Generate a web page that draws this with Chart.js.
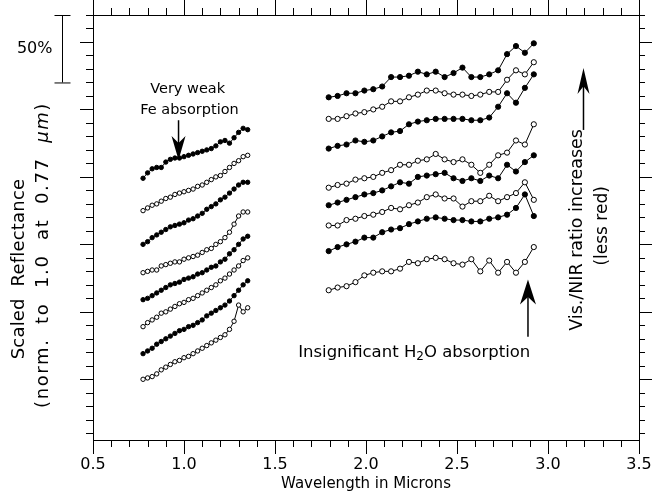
<!DOCTYPE html>
<html>
<head>
<meta charset="utf-8">
<script src="https://cdn.jsdelivr.net/npm/chart.js@4.4.0/dist/chart.umd.min.js"></script>
<style>
  html, body { margin: 0; padding: 0; background: #fff; }
  canvas { display: block; }
</style>
</head>
<body>
<canvas id="chart" width="654" height="494"></canvas>
<script>
const FONT = '"DejaVu Sans", Verdana, sans-serif'

// wavelength grids (microns)
const visWave = [0.775, 0.800, 0.825, 0.850, 0.875, 0.900, 0.925, 0.950, 0.975, 1.000, 1.025, 1.050,
  1.075, 1.100, 1.125, 1.150, 1.175, 1.200, 1.225, 1.250, 1.275, 1.300, 1.325, 1.350]
const nirWave = [1.795, 1.844, 1.893, 1.942, 1.991, 2.040, 2.089, 2.138, 2.187, 2.236, 2.285, 2.334,
  2.383, 2.432, 2.481, 2.530, 2.579, 2.628, 2.677, 2.726, 2.775, 2.824, 2.873, 2.922]

// scaled reflectance, stacked with offsets (0.5 = 50%)
const vis1 = [1.79, 1.83, 1.86, 1.87, 1.87, 1.91, 1.93, 1.94, 1.94, 1.95, 1.96, 1.97, 1.98, 1.99, 2.00, 2.01, 2.03, 2.06, 2.07, 2.05, 2.09, 2.13, 2.16, 2.15]
const vis2 = [1.55, 1.57, 1.59, 1.60, 1.62, 1.64, 1.65, 1.67, 1.68, 1.69, 1.70, 1.71, 1.73, 1.74, 1.76, 1.78, 1.80, 1.81, 1.84, 1.87, 1.90, 1.92, 1.95, 1.96]
const vis3 = [1.30, 1.32, 1.35, 1.37, 1.39, 1.41, 1.43, 1.44, 1.45, 1.46, 1.48, 1.49, 1.51, 1.53, 1.56, 1.58, 1.60, 1.63, 1.65, 1.68, 1.71, 1.74, 1.76, 1.76]
const vis4 = [1.09, 1.10, 1.11, 1.11, 1.14, 1.15, 1.16, 1.17, 1.17, 1.19, 1.20, 1.21, 1.22, 1.24, 1.26, 1.27, 1.30, 1.32, 1.35, 1.39, 1.45, 1.51, 1.54, 1.54]
const vis5 = [0.89, 0.90, 0.92, 0.94, 0.96, 0.98, 1.00, 1.01, 1.02, 1.04, 1.05, 1.06, 1.08, 1.09, 1.11, 1.13, 1.14, 1.17, 1.19, 1.23, 1.26, 1.30, 1.34, 1.36]
const vis6 = [0.69, 0.72, 0.74, 0.76, 0.79, 0.80, 0.82, 0.84, 0.86, 0.87, 0.89, 0.90, 0.92, 0.94, 0.96, 0.98, 1.00, 1.03, 1.05, 1.08, 1.11, 1.14, 1.18, 1.20]
const vis7 = [0.49, 0.51, 0.53, 0.56, 0.58, 0.60, 0.62, 0.64, 0.66, 0.67, 0.69, 0.70, 0.72, 0.74, 0.77, 0.79, 0.81, 0.83, 0.85, 0.88, 0.92, 0.96, 1.00, 1.03]
const vis8 = [0.30, 0.31, 0.32, 0.34, 0.37, 0.39, 0.41, 0.43, 0.44, 0.46, 0.47, 0.49, 0.51, 0.53, 0.55, 0.57, 0.59, 0.61, 0.63, 0.67, 0.73, 0.85, 0.80, 0.83]

const nir1 = [2.39, 2.40, 2.42, 2.42, 2.44, 2.45, 2.47, 2.54, 2.54, 2.55, 2.58, 2.56, 2.58, 2.54, 2.57, 2.61, 2.54, 2.54, 2.56, 2.59, 2.71, 2.77, 2.72, 2.79]
const nir2 = [2.23, 2.23, 2.25, 2.27, 2.28, 2.30, 2.32, 2.36, 2.36, 2.39, 2.41, 2.44, 2.44, 2.42, 2.41, 2.41, 2.40, 2.41, 2.43, 2.43, 2.52, 2.59, 2.56, 2.65]
const nir3 = [2.01, 2.03, 2.04, 2.07, 2.06, 2.07, 2.10, 2.13, 2.14, 2.19, 2.21, 2.22, 2.23, 2.23, 2.23, 2.23, 2.22, 2.22, 2.24, 2.32, 2.42, 2.35, 2.46, 2.56]
const nir4 = [1.72, 1.74, 1.75, 1.78, 1.79, 1.80, 1.83, 1.85, 1.89, 1.89, 1.92, 1.93, 1.97, 1.93, 1.91, 1.93, 1.89, 1.83, 1.89, 1.96, 1.98, 2.07, 2.04, 2.19]
const nir5 = [1.59, 1.61, 1.63, 1.65, 1.67, 1.68, 1.70, 1.73, 1.76, 1.75, 1.80, 1.81, 1.82, 1.83, 1.79, 1.77, 1.79, 1.77, 1.81, 1.79, 1.89, 1.84, 1.91, 1.96]
const nir6 = [1.44, 1.44, 1.48, 1.49, 1.51, 1.52, 1.54, 1.57, 1.56, 1.59, 1.61, 1.65, 1.67, 1.64, 1.64, 1.58, 1.62, 1.62, 1.66, 1.62, 1.65, 1.68, 1.76, 1.63]
const nir7 = [1.25, 1.28, 1.30, 1.32, 1.35, 1.35, 1.39, 1.41, 1.42, 1.45, 1.47, 1.49, 1.50, 1.49, 1.48, 1.48, 1.47, 1.47, 1.49, 1.50, 1.52, 1.57, 1.67, 1.51]
const nir8 = [0.96, 0.98, 0.99, 1.02, 1.07, 1.09, 1.10, 1.10, 1.12, 1.17, 1.16, 1.19, 1.20, 1.19, 1.16, 1.15, 1.19, 1.10, 1.18, 1.09, 1.17, 1.09, 1.17, 1.28]

const visSpectra = [vis1, vis2, vis3, vis4, vis5, vis6, vis7, vis8]
const nirSpectra = [nir1, nir2, nir3, nir4, nir5, nir6, nir7, nir8]

// alternate filled / open circles down the stack
function spectrum(wave, refl, filled, radius) {
  return {
    data: refl.map((r, i) => ({ x: wave[i], y: r })),
    showLine: true,
    borderColor: '#000',
    borderWidth: 1,
    backgroundColor: filled ? '#000' : '#fff',
    pointBackgroundColor: filled ? '#000' : '#fff',
    pointBorderColor: '#000',
    pointBorderWidth: 1,
    pointRadius: radius
  }
}

const datasets = [
  ...visSpectra.map((s, i) => spectrum(visWave, s, i % 2 === 0, 2.2)),
  ...nirSpectra.map((s, i) => spectrum(nirWave, s, i % 2 === 0, 2.6))
]

function arrow(ctx, x, yTail, yTip, len, w) {
  const dir = yTail > yTip ? 1 : -1
  ctx.lineWidth = 1.5
  ctx.beginPath()
  ctx.moveTo(x, yTail)
  ctx.lineTo(x, yTip + dir * len * 0.6)
  ctx.stroke()
  ctx.beginPath()
  ctx.moveTo(x, yTip)
  ctx.lineTo(x + w / 2, yTip + dir * len)
  ctx.lineTo(x, yTip + dir * len * 0.7)
  ctx.lineTo(x - w / 2, yTip + dir * len)
  ctx.closePath()
  ctx.fill()
}

// draw a run of [text, font, dy] pieces centred on (cx, cy)
function pieces(ctx, parts, cx, cy, spacing) {
  ctx.letterSpacing = (spacing || 0) + 'px'
  let total = 0
  parts.forEach((p) => {
    ctx.font = p[1]
    total += ctx.measureText(p[0]).width
  })
  let px = cx - total / 2
  ctx.textAlign = 'left'
  ctx.textBaseline = 'middle'
  parts.forEach((p) => {
    ctx.font = p[1]
    ctx.fillText(p[0], px, cy + (p[2] || 0))
    px += ctx.measureText(p[0]).width
  })
  ctx.letterSpacing = '0px'
}

const decorations = {
  id: 'decorations',
  afterDraw(chart) {
    const { ctx, chartArea: a, scales: { x, y } } = chart
    ctx.save()
    ctx.strokeStyle = '#000'
    ctx.fillStyle = '#000'
    ctx.lineWidth = 1

    // frame
    ctx.strokeRect(a.left + 0.5, a.top + 0.5, a.right - a.left, a.bottom - a.top)

    // x ticks, top and bottom, every 0.1 micron
    ctx.beginPath()
    for (let i = 5; i <= 35; i++) {
      const px = Math.round(x.getPixelForValue(i / 10)) + 0.5
      const major = i % 5 === 0
      ctx.moveTo(px, a.top)
      ctx.lineTo(px, a.top - (major ? 15 : 7))
      ctx.moveTo(px, a.bottom)
      ctx.lineTo(px, a.bottom + (major ? 14 : 7))
    }
    // y ticks, left and right, every 10%
    for (let k = 0; k <= 31; k++) {
      const v = 3.0 - k * 0.1
      if (v < y.min) break
      const py = Math.round(y.getPixelForValue(v)) + 0.5
      const major = k % 5 === 2
      ctx.moveTo(a.left, py)
      ctx.lineTo(a.left - (major ? 13 : 7), py)
      ctx.moveTo(a.right, py)
      ctx.lineTo(a.right + (major ? 13 : 6), py)
    }
    ctx.stroke()

    // 50% scale bar
    const barX = a.left - 30.5
    const bTop = y.getPixelForValue(3.0)
    const bBot = y.getPixelForValue(2.5)
    ctx.beginPath()
    ctx.moveTo(barX, bTop)
    ctx.lineTo(barX, bBot)
    ctx.moveTo(barX - 8, bTop + 0.5)
    ctx.lineTo(barX + 8, bTop + 0.5)
    ctx.moveTo(barX - 8, bBot + 0.5)
    ctx.lineTo(barX + 8, bBot + 0.5)
    ctx.stroke()
    ctx.font = '16px ' + FONT
    ctx.textAlign = 'right'
    ctx.textBaseline = 'middle'
    ctx.fillText('50%', barX - 10, (bTop + bBot) / 2)

    // y axis title, two rotated lines
    ctx.save()
    ctx.translate(19, 269)
    ctx.rotate(-Math.PI / 2)
    pieces(ctx, [['Scaled  Reflectance', '18px ' + FONT]], 0, 0, 0.2)
    ctx.restore()
    ctx.save()
    ctx.translate(43, 255)
    ctx.rotate(-Math.PI / 2)
    pieces(ctx, [
      ['(norm.  to  1.0  at  0.77  ', '18px ' + FONT],
      ['\u00b5m', 'italic 18px ' + FONT],
      [')', '18px ' + FONT]
    ], 0, 0, 1.6)
    ctx.restore()

    // Fe band note
    ctx.font = '14.5px ' + FONT
    ctx.textAlign = 'center'
    ctx.textBaseline = 'alphabetic'
    ctx.fillText('Very weak', x.getPixelForValue(1.02), y.getPixelForValue(2.42))
    ctx.fillText('Fe absorption', x.getPixelForValue(1.03), y.getPixelForValue(2.265))
    arrow(ctx, x.getPixelForValue(0.97), y.getPixelForValue(2.22), y.getPixelForValue(1.926), 24, 14)

    // water band note
    pieces(ctx, [
      ['Insignificant H', '16.5px ' + FONT],
      ['2', '12px ' + FONT, 5],
      ['O absorption', '16.5px ' + FONT]
    ], x.getPixelForValue(2.265), y.getPixelForValue(0.5))
    arrow(ctx, x.getPixelForValue(2.89), y.getPixelForValue(0.615), y.getPixelForValue(1.04), 25, 16)

    // Vis./NIR trend note
    ctx.save()
    ctx.translate(x.getPixelForValue(3.16), y.getPixelForValue(1.407))
    ctx.rotate(-Math.PI / 2)
    pieces(ctx, [['Vis./NIR ratio increases', '17.5px ' + FONT]], 0, 0)
    ctx.restore()
    ctx.save()
    ctx.translate(x.getPixelForValue(3.3), y.getPixelForValue(1.437))
    ctx.rotate(-Math.PI / 2)
    pieces(ctx, [['(less red)', '17px ' + FONT]], 0, 0)
    ctx.restore()
    arrow(ctx, x.getPixelForValue(3.195), y.getPixelForValue(2.148), y.getPixelForValue(2.607), 26, 12)

    ctx.restore()
  }
}

new Chart(document.getElementById('chart'), {
  type: 'scatter',
  data: { datasets },
  options: {
    responsive: false,
    animation: false,
    layout: { autoPadding: false, padding: { top: 15, right: 15, left: 0, bottom: 0 } },
    plugins: { legend: { display: false }, tooltip: { enabled: false } },
    scales: {
      x: {
        type: 'linear',
        min: 0.5,
        max: 3.5,
        // fixed band below the frame; end labels may overhang the sides
        afterFit: (s) => {
          s.height = 54
          s.paddingLeft = 0
          s.paddingRight = 0
        },
        grid: { display: false, drawTicks: false },
        border: { display: false },
        ticks: {
          stepSize: 0.5,
          padding: 15,
          color: '#000',
          font: { family: FONT, size: 16 },
          callback: (v) => v.toFixed(1)
        },
        title: {
          display: true,
          text: 'Wavelength in Microns',
          color: '#000',
          font: { family: FONT, size: 15 },
          padding: { top: 0, bottom: 1 }
        }
      },
      y: {
        min: -0.15,
        max: 3.0,
        afterFit: (s) => { s.width = 93 },
        grid: { display: false, drawTicks: false },
        border: { display: false },
        ticks: { display: false }
      }
    }
  },
  plugins: [decorations]
})
</script>
</body>
</html>
